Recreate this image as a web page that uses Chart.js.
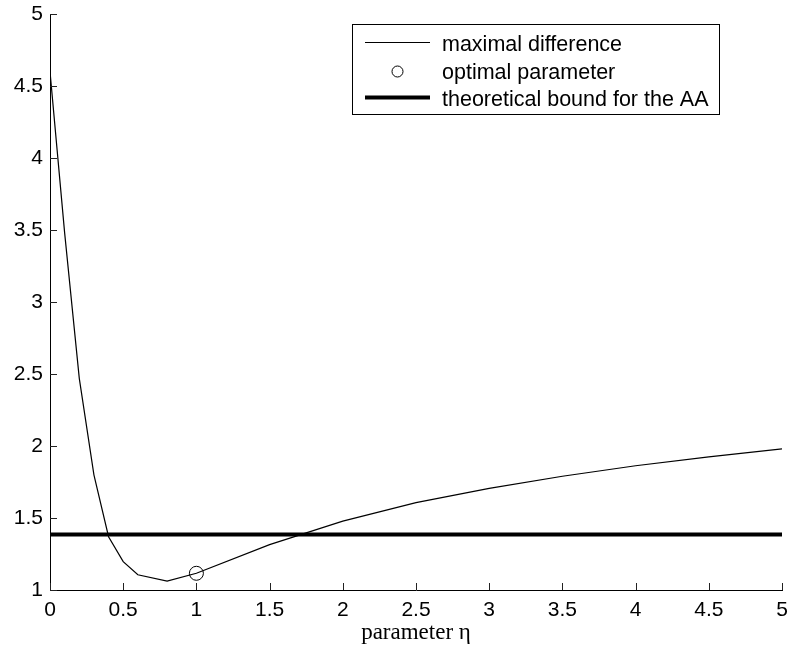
<!DOCTYPE html>
<html>
<head>
<meta charset="utf-8">
<script src="https://cdn.jsdelivr.net/npm/chart.js@4/dist/chart.umd.min.js"></script>
<style>
    html, body { margin: 0; padding: 0; background: #fff; }
    #wrap { width: 791px; height: 648px; }
</style>
</head>
<body>
<div id="wrap"><canvas id="plot" width="791" height="648"></canvas></div>
<script>
// 参数 eta 与最大差值
const etaValues = [0, 0.1, 0.2, 0.3, 0.4, 0.5, 0.6, 0.8, 1, 1.5, 2, 2.5, 3, 3.5, 4, 4.5, 5];
const maxDiff = [4.6, 3.48, 2.47, 1.8, 1.37, 1.197, 1.106, 1.062, 1.116, 1.315, 1.478, 1.607, 1.706, 1.79, 1.863, 1.925, 1.98];
const optimalEta = [1];
const optimalDiff = [1.116];
const boundEta = [0, 5];
const boundValue = [1.386, 1.386];
const xTicks = [0, 0.5, 1, 1.5, 2, 2.5, 3, 3.5, 4, 4.5, 5];
const yTicks = [1, 1.5, 2, 2.5, 3, 3.5, 4, 4.5, 5];
const legendLabels = ['maximal difference', 'optimal parameter', 'theoretical bound for the AA'];

const FONT = "'Liberation Sans', Arial, sans-serif";

function toPoints(xs, ys) {
    return xs.map((x, i) => ({ x: x, y: ys[i] }));
}

// 刻度朝内，并画图例框
const insideTicks = {
    id: 'insideTicks',
    afterDraw(chart) {
        const ctx = chart.ctx;
        const xs = chart.scales.x, ys = chart.scales.y;
        const area = chart.chartArea;
        ctx.save();
        ctx.strokeStyle = '#222';
        ctx.lineWidth = 1;
        ctx.beginPath();
        xTicks.forEach(v => {
            const px = Math.round(xs.getPixelForValue(v)) + 0.5;
            ctx.moveTo(px, area.bottom);
            ctx.lineTo(px, area.bottom - 7);
        });
        yTicks.forEach(v => {
            const py = Math.round(ys.getPixelForValue(v)) + 0.5;
            ctx.moveTo(area.left, py);
            ctx.lineTo(area.left + 7, py);
        });
        ctx.stroke();
        ctx.restore();
    }
};

const boxLegend = {
    id: 'boxLegend',
    afterDraw(chart) {
        const ctx = chart.ctx;
        const sets = chart.data.datasets;
        ctx.save();
        ctx.fillStyle = '#fff';
        ctx.fillRect(352, 24, 367, 90);
        ctx.strokeStyle = '#000';
        ctx.lineWidth = 1;
        ctx.strokeRect(352.5, 24.5, 367, 90);

        const rows = [42.5, 71.5, 97.5];
        const baselines = [50.5, 78.5, 106];
        // 细线
        ctx.lineWidth = sets[0].borderWidth;
        ctx.beginPath();
        ctx.moveTo(365, rows[0]);
        ctx.lineTo(430, rows[0]);
        ctx.stroke();
        // 圆圈
        ctx.lineWidth = 1;
        ctx.beginPath();
        ctx.arc(397.5, rows[1], 5.5, 0, Math.PI * 2);
        ctx.stroke();
        // 粗线
        ctx.lineWidth = sets[2].borderWidth;
        ctx.beginPath();
        ctx.moveTo(365, rows[2]);
        ctx.lineTo(430, rows[2]);
        ctx.stroke();

        ctx.fillStyle = '#000';
        ctx.font = '21.5px ' + FONT;
        ctx.textBaseline = 'alphabetic';
        legendLabels.forEach((t, i) => ctx.fillText(t, 442, baselines[i]));
        ctx.restore();
    }
};

new Chart(document.getElementById('plot').getContext('2d'), {
    type: 'line',
    data: {
        datasets: [
            {
                label: legendLabels[0],
                data: toPoints(etaValues, maxDiff),
                borderColor: '#000',
                borderWidth: 1.2,
                pointRadius: 0,
                tension: 0,
                fill: false
            },
            {
                label: legendLabels[1],
                data: toPoints(optimalEta, optimalDiff),
                showLine: false,
                borderColor: '#000',
                backgroundColor: 'rgba(0,0,0,0)',
                pointRadius: 7,
                pointBorderWidth: 1,
                pointStyle: 'circle'
            },
            {
                label: legendLabels[2],
                data: toPoints(boundEta, boundValue),
                borderColor: '#000',
                borderWidth: 4,
                pointRadius: 0,
                fill: false
            }
        ]
    },
    options: {
        responsive: false,
        animation: false,
        events: [],
        layout: { padding: { top: 14, right: 9, left: 0, bottom: 0 } },
        plugins: {
            legend: { display: false },
            tooltip: { enabled: false }
        },
        scales: {
            x: {
                type: 'linear',
                min: 0,
                max: 5,
                afterBuildTicks: s => { s.ticks = xTicks.map(v => ({ value: v })); },
                afterFit: s => { s.height = 58; s.paddingLeft = 0; s.paddingRight = 0; },
                grid: { display: true, drawOnChartArea: false, drawTicks: false },
                border: { display: true, color: '#000', width: 1 },
                ticks: {
                    color: '#000',
                    padding: 8,
                    maxRotation: 0,
                    autoSkip: false,
                    font: { family: FONT, size: 21 },
                    callback: v => String(v)
                },
                title: {
                    display: true,
                    text: 'parameter η',
                    color: '#000',
                    padding: { top: 0, bottom: 1 },
                    font: { family: "'Liberation Serif', 'DejaVu Serif', serif", size: 23 }
                }
            },
            y: {
                type: 'linear',
                min: 1,
                max: 5,
                afterBuildTicks: s => { s.ticks = yTicks.map(v => ({ value: v })); },
                afterFit: s => { s.width = 50; s.paddingTop = 0; s.paddingBottom = 0; },
                grid: { display: true, drawOnChartArea: false, drawTicks: false },
                border: { display: true, color: '#000', width: 1 },
                ticks: {
                    color: '#000',
                    padding: 7,
                    autoSkip: false,
                    font: { family: FONT, size: 21 },
                    callback: v => String(v)
                }
            }
        }
    },
    plugins: [insideTicks, boxLegend]
});
</script>
</body>
</html>
